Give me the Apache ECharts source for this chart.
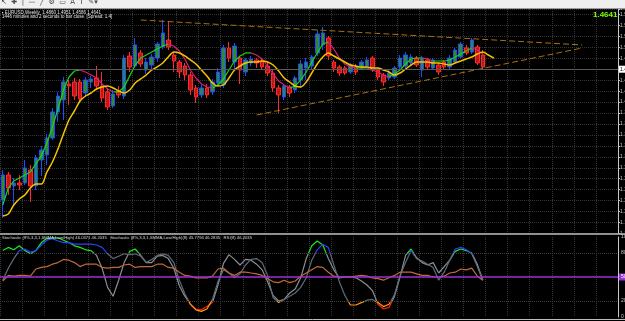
<!DOCTYPE html>
<html>
<head>
<meta charset="utf-8">
<script src="https://cdn.jsdelivr.net/npm/echarts@6/dist/echarts.min.js"></script>
<style>
html, body { margin: 0; padding: 0; background: #000; }
#chart { width: 625px; height: 321px; }
</style>
</head>
<body>
<div id="chart"></div>
<script>
// weekly slots, the last ones are empty space to the right of the price
const weeks = Array.from({ length: 112 }, (_, i) => 'W' + (i + 1));

// [open, close, low, high]
const candles = [
  [1.2212, 1.2669, 1.1884, 1.2760], [1.2669, 1.2431, 1.2304, 1.2724], [1.2468, 1.2523, 1.2121, 1.2614],
  [1.2523, 1.2486, 1.2395, 1.2669], [1.2523, 1.2797, 1.2486, 1.2943], [1.2760, 1.2468, 1.2176, 1.2851],
  [1.2468, 1.2979, 1.2395, 1.3034], [1.2943, 1.3125, 1.2650, 1.3198], [1.3034, 1.3344, 1.2851, 1.3418],
  [1.3344, 1.3819, 1.3308, 1.3892], [1.3819, 1.4111, 1.3637, 1.4185], [1.4038, 1.4367, 1.3673, 1.4458],
  [1.4331, 1.4294, 1.3947, 1.4404], [1.4367, 1.4111, 1.4038, 1.4440], [1.4367, 1.4057, 1.3984, 1.4422],
  [1.4166, 1.4404, 1.4111, 1.4458], [1.4367, 1.4422, 1.4258, 1.4477], [1.4440, 1.4294, 1.4221, 1.4659],
  [1.4294, 1.4075, 1.4002, 1.4550], [1.4185, 1.3911, 1.3856, 1.4258], [1.3929, 1.4148, 1.3892, 1.4221],
  [1.4203, 1.4130, 1.4075, 1.4294], [1.4111, 1.4805, 1.4057, 1.4860], [1.4842, 1.4641, 1.4550, 1.4915],
  [1.4659, 1.5043, 1.4623, 1.5170], [1.4897, 1.4696, 1.4641, 1.4951], [1.4586, 1.4732, 1.4513, 1.4805],
  [1.4677, 1.4823, 1.4586, 1.4878], [1.4805, 1.5061, 1.4732, 1.5097], [1.5006, 1.5262, 1.4970, 1.5499],
  [1.5134, 1.5006, 1.4951, 1.5481], [1.4860, 1.4750, 1.4550, 1.4915], [1.4732, 1.4550, 1.4440, 1.4769],
  [1.4659, 1.4495, 1.4404, 1.4714], [1.4495, 1.4221, 1.4130, 1.4550], [1.4258, 1.4093, 1.3984, 1.4312],
  [1.4130, 1.4258, 1.4075, 1.4312], [1.4258, 1.4130, 1.4075, 1.4331], [1.4185, 1.4367, 1.4130, 1.4422],
  [1.4349, 1.4550, 1.4294, 1.4623], [1.4312, 1.4988, 1.4258, 1.5043], [1.4988, 1.4805, 1.4732, 1.5097],
  [1.4732, 1.5024, 1.4586, 1.5079], [1.4805, 1.4586, 1.4331, 1.4842], [1.4550, 1.4769, 1.4477, 1.4805],
  [1.4714, 1.4787, 1.4659, 1.4842], [1.4769, 1.4714, 1.4623, 1.4805], [1.4750, 1.4641, 1.4586, 1.4805],
  [1.4659, 1.4531, 1.4477, 1.4732], [1.4531, 1.4258, 1.4185, 1.4586], [1.4258, 1.4130, 1.3801, 1.4312],
  [1.4093, 1.4294, 1.4038, 1.4331], [1.4276, 1.4166, 1.4093, 1.4312], [1.4221, 1.4440, 1.4166, 1.4477],
  [1.4404, 1.4696, 1.4258, 1.4769], [1.4623, 1.4732, 1.4404, 1.4805], [1.4659, 1.4823, 1.4586, 1.4860],
  [1.4897, 1.5243, 1.4842, 1.5316], [1.5043, 1.5262, 1.4951, 1.5371], [1.5170, 1.4842, 1.4769, 1.5207],
  [1.4732, 1.4623, 1.4550, 1.4769], [1.4641, 1.4531, 1.4477, 1.4677], [1.4623, 1.4531, 1.4495, 1.4659],
  [1.4550, 1.4677, 1.4513, 1.4714], [1.4641, 1.4550, 1.4495, 1.4696], [1.4623, 1.4732, 1.4586, 1.4769],
  [1.4659, 1.4769, 1.4623, 1.4823], [1.4805, 1.4586, 1.4550, 1.4842], [1.4586, 1.4458, 1.4404, 1.4623],
  [1.4495, 1.4367, 1.4294, 1.4531], [1.4440, 1.4531, 1.4404, 1.4586], [1.4458, 1.4623, 1.4422, 1.4659],
  [1.4641, 1.4805, 1.4586, 1.4860], [1.4659, 1.4860, 1.4623, 1.4915], [1.4714, 1.4823, 1.4677, 1.4878],
  [1.4805, 1.4677, 1.4641, 1.4842], [1.4586, 1.4805, 1.4458, 1.4842], [1.4769, 1.4641, 1.4604, 1.4805],
  [1.4623, 1.4769, 1.4586, 1.4805], [1.4677, 1.4550, 1.4495, 1.4714], [1.4732, 1.4641, 1.4586, 1.4769],
  [1.4641, 1.4805, 1.4604, 1.4860], [1.4732, 1.4951, 1.4696, 1.4988], [1.4823, 1.5061, 1.4805, 1.5097],
  [1.4988, 1.4897, 1.4860, 1.5043], [1.4915, 1.5134, 1.4878, 1.5170], [1.5006, 1.4714, 1.4677, 1.5043],
  [1.4860, 1.4641, 1.4586, 1.4951]
];

const fastMA = [
  1.2121, 1.2431, 1.2559, 1.2614, 1.2669, 1.2724, 1.2870, 1.3016, 1.3253, 1.3545,
  1.3874, 1.4221, 1.4458, 1.4568, 1.4586, 1.4550, 1.4495, 1.4440, 1.4331, 1.4239,
  1.4185, 1.4185, 1.4276, 1.4477, 1.4677, 1.4805, 1.4860, 1.4915, 1.4970, 1.5024,
  1.5061, 1.5024, 1.4933, 1.4787, 1.4586, 1.4440, 1.4331, 1.4276, 1.4258, 1.4312,
  1.4422, 1.4586, 1.4750, 1.4842, 1.4897, 1.4897, 1.4860, 1.4787, 1.4659, 1.4513,
  1.4385, 1.4312, 1.4258, 1.4294, 1.4404, 1.4550, 1.4732, 1.4897, 1.5061, 1.5097,
  1.4970, 1.4805, 1.4696, 1.4641, 1.4623, 1.4623, 1.4623, 1.4586, 1.4550, 1.4495,
  1.4458, 1.4513, 1.4586, 1.4696, 1.4787, 1.4805, 1.4805, 1.4787, 1.4750, 1.4750,
  1.4750, 1.4769, 1.4823, 1.4878, 1.4933, 1.4988, 1.4951, 1.4878
];

const slowMA = [
  1.1920, 1.1957, 1.2121, 1.2231, 1.2304, 1.2431, 1.2504, 1.2504, 1.2724, 1.2906,
  1.3144, 1.3417, 1.3673, 1.3838, 1.4020, 1.4111, 1.4166, 1.4239, 1.4276, 1.4294,
  1.4258, 1.4203, 1.4166, 1.4221, 1.4349, 1.4422, 1.4495, 1.4586, 1.4641, 1.4714,
  1.4823, 1.4915, 1.4897, 1.4842, 1.4769, 1.4696, 1.4586, 1.4477, 1.4349, 1.4294,
  1.4312, 1.4440, 1.4586, 1.4659, 1.4714, 1.4732, 1.4732, 1.4750, 1.4732, 1.4677,
  1.4568, 1.4440, 1.4367, 1.4294, 1.4276, 1.4367, 1.4531, 1.4696, 1.4823, 1.4897,
  1.4842, 1.4787, 1.4732, 1.4677, 1.4659, 1.4641, 1.4641, 1.4623, 1.4623, 1.4586,
  1.4550, 1.4495, 1.4531, 1.4604, 1.4677, 1.4732, 1.4732, 1.4732, 1.4714, 1.4714,
  1.4696, 1.4677, 1.4714, 1.4750, 1.4787, 1.4823, 1.4878, 1.4915, 1.4860, 1.4805
];

// triangle trend lines: [week index, price]
const trendUpper = [[25, 1.5499], [105, 1.5043]];
const trendLower = [[46, 1.3764], [105, 1.4988]];

// oscillator pane
const stochK = [
  83, 87, 84, 89, 83, 79, 83, 93, 98, 99,
  99, 96, 93, 89, 87, 84, 83, 77, 61, 37,
  26, 46, 68, 82, 85, 77, 68, 68, 76, 77,
  73, 61, 39, 26, 16, 10, 9, 13, 18, 40,
  67, 78, 72, 65, 72, 71, 66, 59, 44, 27,
  20, 22, 30, 35, 49, 73, 89, 95, 90, 73,
  59, 49, 50, 50, 49, 45, 40, 33, 16, 10,
  12, 26, 50, 77, 85, 74, 68, 65, 68, 55,
  63, 71, 82, 85, 83, 80, 66, 46
];
const stochD = [
  46, 61, 73, 83, 85, 81, 83, 90, 96, 98,
  95, 93, 93, 91, 91, 91, 91, 90, 87, 79,
  73, 76, 79, 78, 79, 76, 68, 72, 77, 79,
  77, 68, 46, 29, 16, 9, 7, 10, 22, 44,
  59, 55, 49, 54, 65, 72, 73, 68, 52, 24,
  18, 22, 26, 30, 37, 49, 71, 84, 91, 87,
  65, 44, 27, 15, 15, 18, 21, 22, 18, 13,
  16, 28, 52, 68, 83, 73, 70, 66, 62, 46,
  56, 71, 85, 87, 84, 79, 63, 46
];
const rsi = [
  45, 52, 51, 52, 52, 51, 60, 62, 63, 66,
  68, 72, 71, 68, 63, 66, 66, 66, 62, 61,
  62, 62, 65, 66, 62, 63, 63, 63, 66, 66,
  62, 61, 56, 52, 51, 49, 49, 49, 51, 60,
  61, 55, 52, 56, 56, 55, 54, 52, 48, 44,
  43, 46, 43, 45, 51, 55, 59, 63, 62, 56,
  51, 50, 50, 50, 51, 52, 51, 49, 48, 46,
  49, 52, 56, 56, 56, 54, 52, 52, 50, 50,
  51, 55, 56, 60, 59, 61, 51, 46
];
const oscLevels = [0, 20, 50, 80, 100];

const lastClose = candles[candles.length - 1][1];

// split the fast MA into rising (green) and falling (pink) pieces
const maUp = fastMA.map((v, i) => {
  const a = i > 0 && v >= fastMA[i - 1];
  const b = i < fastMA.length - 1 && fastMA[i + 1] >= v;
  return a || b ? v : null;
});
const maDown = fastMA.map((v, i) => {
  const a = i > 0 && v < fastMA[i - 1];
  const b = i < fastMA.length - 1 && fastMA[i + 1] < v;
  return a || b ? v : null;
});

const gridLine = { show: true, lineStyle: { color: '#363636', type: 'dotted', width: 1 } };
const font = 'Liberation Sans';

function catAxis(idx) {
  return {
    type: 'category', gridIndex: idx, data: weeks, boundaryGap: true,
    axisLine: { show: false }, axisTick: { show: false }, axisLabel: { show: false },
    splitLine: Object.assign({ interval: 3 }, gridLine)
  };
}

const chart = echarts.init(document.getElementById('chart'));
const option = {
  backgroundColor: '#000',
  animation: false,
  textStyle: { fontFamily: font },
  grid: [
    { left: 0, top: 9, width: 618, height: 224.5, outerBoundsMode: 'none', containLabel: false },
    { left: 0, top: 237, width: 618, height: 80, outerBoundsMode: 'none', containLabel: false }
  ],
  xAxis: [catAxis(0), catAxis(1)],
  yAxis: [
    {
      type: 'value', gridIndex: 0, position: 'right', min: 1.16, max: 1.57, interval: 0.02,
      axisLine: { show: true, lineStyle: { color: '#c8c8c8' } },
      axisTick: { show: true, length: 2, lineStyle: { color: '#c8c8c8' } },
      axisLabel: { fontSize: 5, color: '#c8c8c8', margin: 2, formatter: v => v.toFixed(4) },
      splitLine: gridLine
    },
    {
      type: 'value', gridIndex: 1, position: 'right', min: 0, max: 100, interval: 10,
      axisLine: { show: true, lineStyle: { color: '#c8c8c8' } },
      axisTick: { show: false },
      axisLabel: { fontSize: 5, color: '#c8c8c8', margin: 3, formatter: v => oscLevels.includes(v) ? String(v) : '' },
      splitLine: { show: false }
    }
  ],
  visualMap: [
    {
      type: 'piecewise', show: false, seriesIndex: 6, dimension: 1,
      pieces: [
        { gte: 80, color: '#1ee61e' },
        { lt: 20, color: '#ff1a1a' },
        { gte: 20, lt: 80, color: '#8a8f96' }
      ]
    },
    {
      type: 'piecewise', show: false, seriesIndex: 7, dimension: 1,
      pieces: [
        { gte: 80, color: '#2442ff' },
        { lt: 20, color: '#ff9a00' },
        { gte: 20, lt: 80, color: '#5d6b78' }
      ]
    }
  ],
  series: [
    {
      type: 'candlestick', xAxisIndex: 0, yAxisIndex: 0, data: candles, barWidth: 4,
      itemStyle: { color: '#2c8a3a', color0: '#c01818', borderColor: '#1f4cff', borderColor0: '#ff2a2a', borderWidth: 1 },
      markLine: {
        silent: true, symbol: 'none', animation: false,
        lineStyle: { color: '#5a5a5a', type: 'solid', width: 1 },
        label: { position: 'end', formatter: lastClose.toFixed(4), fontSize: 5, color: '#000', backgroundColor: '#fff', padding: [1, 1], distance: 1 },
        data: [{ yAxis: lastClose }]
      }
    },
    { type: 'line', xAxisIndex: 0, yAxisIndex: 0, data: maUp, symbol: 'none', connectNulls: false, lineStyle: { color: '#19d419', width: 1.2 } },
    { type: 'line', xAxisIndex: 0, yAxisIndex: 0, data: maDown, symbol: 'none', connectNulls: false, lineStyle: { color: '#d81f78', width: 1.2 } },
    { type: 'line', xAxisIndex: 0, yAxisIndex: 0, data: slowMA, symbol: 'none', smooth: 0.3, lineStyle: { color: '#f5c400', width: 1.5 } },
    { type: 'line', xAxisIndex: 0, yAxisIndex: 0, data: trendUpper, symbol: 'none', lineStyle: { color: '#a8700f', width: 1, type: [6, 3] } },
    { type: 'line', xAxisIndex: 0, yAxisIndex: 0, data: trendLower, symbol: 'none', lineStyle: { color: '#a8700f', width: 1, type: [6, 3] } },
    { type: 'line', xAxisIndex: 1, yAxisIndex: 1, data: stochK, symbol: 'none', lineStyle: { width: 1.2 } },
    { type: 'line', xAxisIndex: 1, yAxisIndex: 1, data: stochD, symbol: 'none', lineStyle: { width: 1.2 } },
    {
      type: 'line', xAxisIndex: 1, yAxisIndex: 1, data: rsi, symbol: 'none', lineStyle: { color: '#c0693a', width: 1.2 },
      markLine: {
        silent: true, symbol: 'none', animation: false,
        data: [
          { yAxis: 50, lineStyle: { color: '#9b30d8', width: 1.5, type: 'solid' },
            label: { position: 'end', formatter: '50', fontSize: 5, color: '#fff', backgroundColor: '#9b30d8', padding: [1, 2], distance: 1 } },
          { yAxis: 20, lineStyle: { color: '#3c3c3c', width: 1, type: 'dotted' }, label: { show: false } },
          { yAxis: 80, lineStyle: { color: '#3c3c3c', width: 1, type: 'dotted' }, label: { show: false } }
        ]
      }
    }
  ],
  graphic: [
    { type: 'rect', shape: { x: 0, y: 0, width: 625, height: 8 }, style: { fill: '#efefef' }, z: 10 },
    { type: 'line', shape: { x1: 0, y1: 8.5, x2: 625, y2: 8.5 }, style: { stroke: '#9a9a9a', lineWidth: 1 }, z: 10 },
    { type: 'text', x: 1, y: -1, style: { text: '↖  ✚  |  —  ╱  ⚙  ▭  A  T  ✎▾', fontSize: 7, fill: '#444', fontFamily: 'DejaVu Sans' }, z: 11 },
    { type: 'text', x: 2, y: 10, style: { text: '▪ EURUSD,Weekly  1.4860 1.4951 1.4586 1.4641', fontSize: 4.5, fill: '#e6e6e6', fontFamily: font }, z: 11 },
    { type: 'text', x: 2, y: 14.5, style: { text: '1446 minutes and 2 seconds to bar close. [Spread: 1.4]', fontSize: 4.5, fill: '#e6e6e6', fontFamily: font }, z: 11 },
    { type: 'text', x: 593, y: 11, style: { text: lastClose.toFixed(4), fontSize: 8, fontWeight: 'bold', fill: '#7cfc00', fontFamily: font }, z: 11 },
    { type: 'line', shape: { x1: 0, y1: 234, x2: 625, y2: 234 }, style: { stroke: '#bdbdbd', lineWidth: 1.5 }, z: 10 },
    { type: 'line', shape: { x1: 0, y1: 319.5, x2: 625, y2: 319.5 }, style: { stroke: '#bdbdbd', lineWidth: 1 }, z: 10 },
    { type: 'text', x: 2, y: 236, style: { text: 'Stochastic (8%,3,3,1,SMMA,Low/High) 46.0371 46.2035   Stochastic (8%,3,3,1,SMMA,Low/High)(8) 45.7794 46.2835   RSI(8) 46.2035', fontSize: 4.2, fill: '#d8d8d8', fontFamily: font }, z: 11 }
  ]
};
chart.setOption(option);
</script>
</body>
</html>
